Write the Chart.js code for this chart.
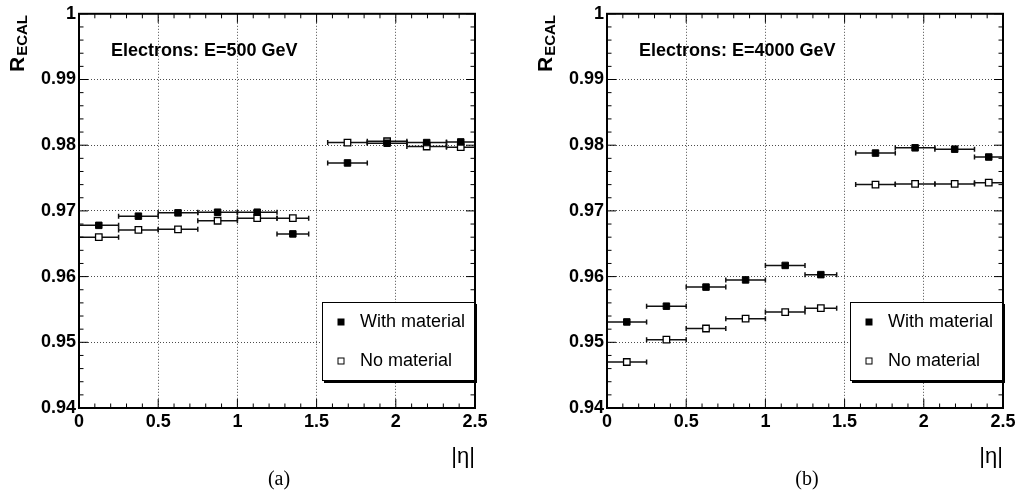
<!DOCTYPE html>
<html>
<head>
<meta charset="utf-8">
<script src="https://cdn.jsdelivr.net/npm/chart.js@4.4.1/dist/chart.umd.min.js"></script>
<style>
  body { margin: 0; background: #fff; }
  #wrap { display: flex; width: 1020px; height: 500px; }
  canvas { display: block; }
</style>
</head>
<body>
<div id="wrap">
  <canvas id="panelA" width="510" height="500"></canvas>
  <canvas id="panelB" width="510" height="500"></canvas>
</div>
<script>
// |eta| bins
const binLo = [0, 0.25, 0.5, 0.75, 1.0, 1.25, 1.57, 1.82, 2.07, 2.32];
const binHi = [0.25, 0.5, 0.75, 1.0, 1.25, 1.45, 1.82, 2.07, 2.32, 2.5];
const etaCenter = [0.125, 0.375, 0.625, 0.875, 1.125, 1.35, 1.695, 1.945, 2.195, 2.41];

// (a) E = 500 GeV
const withMat500 = [0.9678, 0.9692, 0.9697, 0.9698, 0.9698, 0.9665, 0.9773, 0.9803, 0.9804, 0.9805];
const noMat500 = [0.9660, 0.9671, 0.9672, 0.9685, 0.9689, 0.9689, 0.9804, 0.9806, 0.9798, 0.9797];

// (b) E = 4000 GeV
const withMat4000 = [0.9531, 0.9555, 0.9584, 0.9595, 0.9617, 0.9603, 0.9788, 0.9796, 0.9794, 0.9782];
const noMat4000 = [0.9470, 0.9504, 0.9521, 0.9536, 0.9546, 0.9552, 0.9740, 0.9741, 0.9741, 0.9743];

const xTicks = [0, 0.5, 1, 1.5, 2, 2.5];
const yTicks = [0.94, 0.95, 0.96, 0.97, 0.98, 0.99, 1];
const legendLabels = ['With material', 'No material'];

const SANS = '"Liberation Sans", Arial, Helvetica, sans-serif';
const SERIF = '"Liberation Serif", "Times New Roman", serif';

function toPoints(vals) {
  return vals.map((v, i) => ({ x: etaCenter[i], y: v }));
}

// ROOT-like decorations: error bars, frame, inward ticks, legend, labels
const rootStyle = {
  id: 'rootStyle',
  beforeDatasetsDraw(chart) {
    const ctx = chart.ctx, xs = chart.scales.x, ys = chart.scales.y;
    const area = chart.chartArea;
    ctx.save();
    ctx.beginPath();
    ctx.rect(area.left, area.top, area.right - area.left, area.bottom - area.top);
    ctx.clip();
    ctx.strokeStyle = '#111';
    ctx.lineWidth = 1.5;
    chart.data.datasets.forEach(ds => {
      ds.data.forEach((p, i) => {
        const x1 = xs.getPixelForValue(binLo[i]);
        const x2 = xs.getPixelForValue(binHi[i]);
        const y = ys.getPixelForValue(p.y);
        ctx.beginPath();
        ctx.moveTo(x1, y); ctx.lineTo(x2, y);
        ctx.moveTo(x1, y - 2.5); ctx.lineTo(x1, y + 2.5);
        ctx.moveTo(x2, y - 2.5); ctx.lineTo(x2, y + 2.5);
        ctx.stroke();
      });
    });
    ctx.restore();
  },
  afterDatasetsDraw(chart, args, opts) {
    const ctx = chart.ctx, xs = chart.scales.x, ys = chart.scales.y;
    const a = chart.chartArea;
    ctx.save();

    // inward ticks on all four sides
    ctx.strokeStyle = '#000';
    ctx.lineWidth = 1;
    ctx.beginPath();
    for (let k = 0; k <= 25; k++) {
      const px = xs.getPixelForValue(k * 0.1);
      const len = k % 5 === 0 ? 9 : 4.5;
      ctx.moveTo(px, a.bottom); ctx.lineTo(px, a.bottom - len);
      ctx.moveTo(px, a.top); ctx.lineTo(px, a.top + len);
    }
    for (let k = 0; k <= 30; k++) {
      const py = ys.getPixelForValue(0.94 + k * 0.002);
      const len = k % 5 === 0 ? 9 : 4.5;
      ctx.moveTo(a.left, py); ctx.lineTo(a.left + len, py);
      ctx.moveTo(a.right, py); ctx.lineTo(a.right - len, py);
    }
    ctx.stroke();

    // frame
    ctx.lineWidth = 2;
    ctx.strokeRect(a.left, a.top, a.right - a.left, a.bottom - a.top);

    // energy label
    ctx.fillStyle = '#000';
    ctx.font = 'bold 18px ' + SANS;
    ctx.textAlign = 'left';
    ctx.textBaseline = 'middle';
    ctx.fillText(opts.title, a.left + 32, 51);

    // legend
    const lx = a.left + 243, ly = 302, lw = a.right - lx, lh = 79;
    ctx.fillStyle = '#000';
    ctx.fillRect(lx + 2, ly + 2, lw, lh);
    ctx.fillStyle = '#fff';
    ctx.fillRect(lx, ly, lw, lh);
    ctx.lineWidth = 1;
    ctx.strokeStyle = '#000';
    ctx.strokeRect(lx + 0.5, ly + 0.5, lw - 1, lh - 1);
    const rows = [322, 361];
    chart.data.datasets.forEach((ds, i) => {
      const mx = a.left + 262, my = rows[i];
      ctx.fillStyle = ds.pointBackgroundColor;
      ctx.fillRect(mx - 3, my - 3, 6, 6);
      ctx.strokeStyle = '#000';
      ctx.lineWidth = 1;
      ctx.strokeRect(mx - 3, my - 3, 6, 6);
      ctx.fillStyle = '#000';
      ctx.font = '18px ' + SANS;
      ctx.textAlign = 'left';
      ctx.textBaseline = 'middle';
      ctx.fillText(ds.label, a.left + 281, my);
    });

    // y axis title R_ECAL (rotated)
    ctx.save();
    ctx.translate(a.left - 55, 72);
    ctx.rotate(-Math.PI / 2);
    ctx.textAlign = 'left';
    ctx.textBaseline = 'alphabetic';
    ctx.font = 'bold 21px ' + SANS;
    ctx.fillText('R', 0, 0);
    const wR = ctx.measureText('R').width;
    ctx.font = 'bold 15px ' + SANS;
    ctx.fillText('ECAL', wR + 1, 3);
    ctx.restore();

    // x axis title |eta|
    ctx.font = '22px ' + SANS;
    ctx.textAlign = 'right';
    ctx.textBaseline = 'middle';
    ctx.fillText('|\u03b7|', a.right, 457);

    // panel tag
    ctx.font = '20px ' + SERIF;
    ctx.textAlign = 'center';
    ctx.fillText(opts.tag, (a.left + a.right) / 2 + 2, 480);

    ctx.restore();
  }
};

function makePanel(canvasId, withVals, noVals, title, tag, plotLeft, padRight) {
  const canvas = document.getElementById(canvasId);
  return new Chart(canvas, {
    type: 'scatter',
    data: {
      datasets: [{
        label: legendLabels[0],
        data: toPoints(withVals),
        pointStyle: 'rect',
        pointRadius: 4.6,
        pointBackgroundColor: '#000',
        pointBorderColor: '#000',
        pointBorderWidth: 1
      }, {
        label: legendLabels[1],
        data: toPoints(noVals),
        pointStyle: 'rect',
        pointRadius: 4.6,
        pointBackgroundColor: '#fff',
        pointBorderColor: '#000',
        pointBorderWidth: 1.3
      }]
    },
    options: {
      responsive: false,
      animation: false,
      layout: { padding: { left: 0, top: 12, right: padRight, bottom: 0 } },
      plugins: {
        legend: { display: false },
        tooltip: { enabled: false },
        rootStyle: { title: title, tag: tag }
      },
      scales: {
        x: {
          type: 'linear',
          min: 0,
          max: 2.5,
          afterBuildTicks: s => { s.ticks = xTicks.map(v => ({ value: v })); },
          afterFit: s => { s.height = 92; },
          ticks: {
            padding: 3,
            color: '#000',
            font: { family: SANS, size: 18, weight: 'bold' },
            maxRotation: 0,
            callback: v => String(parseFloat(v.toFixed(2)))
          },
          grid: { color: 'rgba(0,0,0,0.7)', lineWidth: 1, drawTicks: false },
          border: { display: false, dash: [1, 2] }
        },
        y: {
          type: 'linear',
          min: 0.94,
          max: 1.0,
          afterBuildTicks: s => { s.ticks = yTicks.map(v => ({ value: v })); },
          afterFit: s => { s.width = plotLeft; },
          ticks: {
            padding: 3,
            color: '#000',
            font: { family: SANS, size: 18, weight: 'bold' },
            callback: v => String(parseFloat(v.toFixed(2)))
          },
          grid: { color: 'rgba(0,0,0,0.7)', lineWidth: 1, drawTicks: false },
          border: { display: false, dash: [1, 2] }
        }
      }
    },
    plugins: [rootStyle]
  });
}

makePanel('panelA', withMat500, noMat500, 'Electrons: E=500 GeV', '(a)', 79, 35);
makePanel('panelB', withMat4000, noMat4000, 'Electrons: E=4000 GeV', '(b)', 97, 17);
</script>
</body>
</html>
